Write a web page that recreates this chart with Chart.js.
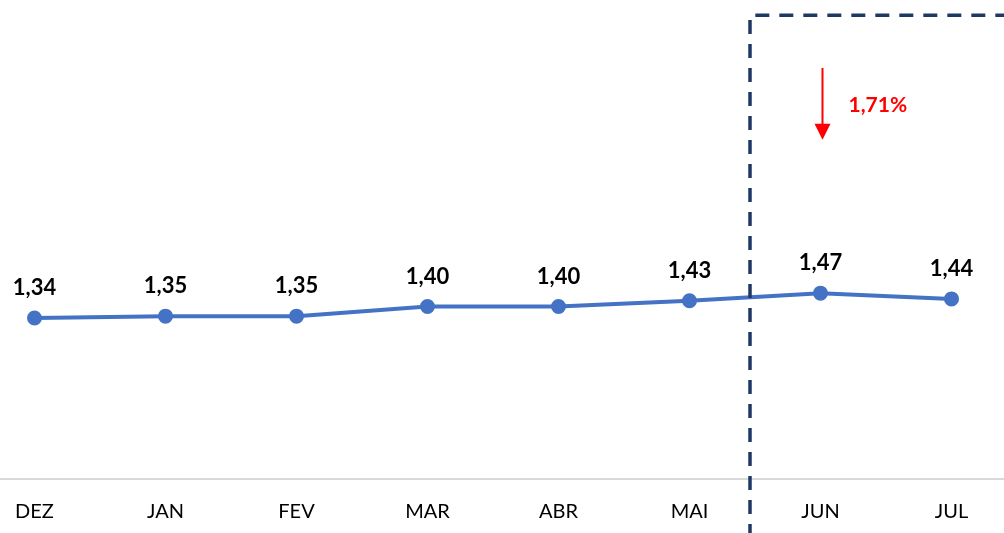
<!DOCTYPE html>
<html>
<head>
<meta charset="utf-8">
<script src="https://cdn.jsdelivr.net/npm/chart.js@4"></script>
<style>
  html, body { margin: 0; padding: 0; background: #fff; overflow: hidden; }
  #chart { position: absolute; left: -31.5px; top: 0; }
</style>
</head>
<body>
<canvas id="chart" width="1048" height="533"></canvas>
<script>
// months and values
const months = ["DEZ", "JAN", "FEV", "MAR", "ABR", "MAI", "JUN", "JUL"];
const values = [1.34, 1.35, 1.35, 1.40, 1.40, 1.43, 1.47, 1.44];
const changeText = "1,71%";

const lineColor = "#4472C4";
const boxColor = "#203864";
const fontFamily = "Lato, 'Open Sans', sans-serif";

// value labels above each point, comma decimal
const valueLabels = {
  id: "valueLabels",
  afterDatasetsDraw(chart) {
    const ctx = chart.ctx;
    const meta = chart.getDatasetMeta(0);
    ctx.save();
    ctx.font = "bold 22px " + fontFamily;
    ctx.fillStyle = "#000";
    ctx.textAlign = "center";
    ctx.textBaseline = "middle";
    meta.data.forEach((pt, i) => {
      ctx.fillText(values[i].toFixed(2).replace(".", ","), pt.x, pt.y - 30);
    });
    ctx.restore();
  }
};

// dashed highlight box + red arrow
const highlight = {
  id: "highlight",
  afterDraw(chart) {
    const ctx = chart.ctx;
    const x = chart.scales.x;
    const y = chart.scales.y;
    const left = (x.getPixelForValue(5) + x.getPixelForValue(6)) / 2 - 5;
    const top = y.getPixelForValue(2.92);
    ctx.save();
    ctx.strokeStyle = boxColor;
    ctx.lineWidth = 3.5;
    ctx.setLineDash([14, 10]);
    ctx.beginPath();
    ctx.moveTo(left, chart.height + 5);
    ctx.lineTo(left, top);
    ctx.lineTo(chart.width + 10, top);
    ctx.stroke();

    // arrow down
    const ax = x.getPixelForValue(6) + 2;
    const y1 = y.getPixelForValue(2.645);
    const y2 = y.getPixelForValue(2.27);
    ctx.setLineDash([]);
    ctx.strokeStyle = "#FF0000";
    ctx.fillStyle = "#FF0000";
    ctx.lineWidth = 2;
    ctx.beginPath();
    ctx.moveTo(ax, y1);
    ctx.lineTo(ax, y2 - 14);
    ctx.stroke();
    ctx.beginPath();
    ctx.moveTo(ax - 8, y2 - 16);
    ctx.lineTo(ax + 8, y2 - 16);
    ctx.lineTo(ax, y2);
    ctx.closePath();
    ctx.fill();

    ctx.font = "bold 21px " + fontFamily;
    ctx.textAlign = "left";
    ctx.textBaseline = "middle";
    ctx.fillText(changeText, ax + 26, y.getPixelForValue(2.45));
    ctx.restore();
  }
};

new Chart("chart", {
  type: "line",
  data: {
    labels: months,
    datasets: [{
      data: values,
      borderColor: lineColor,
      backgroundColor: lineColor,
      borderWidth: 4,
      pointRadius: 5.5,
      pointHoverRadius: 5.5,
      tension: 0,
      clip: false
    }]
  },
  options: {
    responsive: false,
    animation: false,
    layout: { padding: 0, autoPadding: false },
    plugins: {
      legend: { display: false },
      tooltip: { enabled: false }
    },
    scales: {
      x: {
        offset: true,
        afterFit(scale) { scale.height = 54; },
        grid: { display: false, drawTicks: false },
        border: { display: true, color: "#d9d9d9", width: 2 },
        ticks: {
          color: "#000",
          padding: 21,
          font: { family: fontFamily, size: 20 }
        }
      },
      y: {
        display: false,
        min: 0.5,
        max: 3.0
      }
    }
  },
  plugins: [valueLabels, highlight]
});
</script>
</body>
</html>
